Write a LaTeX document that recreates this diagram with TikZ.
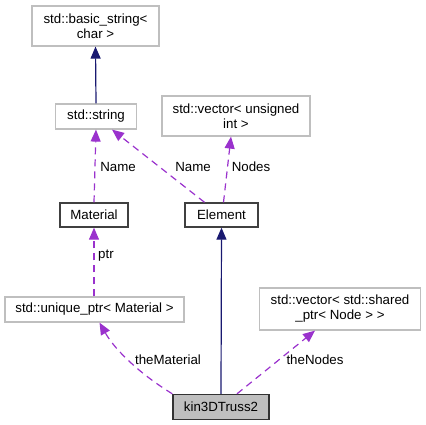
\documentclass[tikz,border=0pt]{standalone}
\usepackage{fontspec}
\setmainfont{Liberation Sans}
\usetikzlibrary{arrows.meta,positioning}
\definecolor{edgenavy}{HTML}{191970}
\definecolor{edgepurple}{HTML}{9A32CD}
\definecolor{boxgray}{HTML}{BFBFBF}
\definecolor{boxdark}{HTML}{404040}

\begin{document}
\begin{tikzpicture}[
  x=1pt, y=-1pt,
  every node/.style={font=\fontsize{13.3}{15}\selectfont},
  extcls/.style={draw=boxgray, line width=1.2pt, fill=white, align=center, inner sep=2pt},
  cls/.style={draw=boxdark, line width=1.4pt, fill=white, align=center, inner sep=2pt},
  curcls/.style={draw=black!80, line width=1.4pt, fill=boxgray, align=center, inner sep=2pt},
  inherit/.style={-{Triangle[length=12pt, width=10pt]}, line width=1.2pt, edgenavy},
  usage/.style={-{Triangle[length=12pt, width=10pt]}, line width=1.2pt, edgepurple,
                dash pattern=on 7pt off 5pt},
  lbl/.style={inner sep=0pt}
]
\useasboundingbox (0,0) rectangle (426,425);

%% Classes
\node[extcls, minimum width=127pt, minimum height=40pt] (basicstr) at (95.5,26) {std::basic\_string<\\char >};
\node[extcls, minimum width=81pt, minimum height=25pt] (str) at (96,116.5) {std::string};
\node[extcls, minimum width=148pt, minimum height=40pt] (vecuint) at (236,116) {std::vector< unsigned\\int >};
\node[cls, minimum width=68pt, minimum height=24pt] (material) at (94,215) {Material};
\node[cls, minimum width=73pt, minimum height=24pt] (element) at (221.5,215) {Element};
\node[extcls, minimum width=179pt, minimum height=25pt] (uniqptr) at (94.5,309.5) {std::unique\_ptr< Material >};
\node[extcls, minimum width=161pt, minimum height=42pt] (vecnodes) at (340,309) {std::vector< std::shared\\\_ptr< Node > >};
\node[curcls, minimum width=96pt, minimum height=25pt] (truss) at (221,407) {kin3DTruss2};

%% Inheritance
\draw[inherit] (str.north) -- (basicstr.south);
\draw[inherit] (truss.north) -- (element.south);

%% Usage
\draw[usage] (material.north) -- (str.south);
\draw[usage] ([xshift=-17pt]element.north) -- ([xshift=16pt]str.south);
\draw[usage] ([xshift=2pt]element.north) -- ([xshift=-5pt]vecuint.south);
\draw[usage] (uniqptr.north -| material) -- (material.south);
\draw[usage] (truss.north west) .. controls (140,374) and (115,350) .. ([xshift=5pt]uniqptr.south);
\draw[usage] ([xshift=16pt]truss.north) -- ([xshift=-25pt]vecnodes.south);

%% Labels
\node[lbl] (lname1) at (118,167) {Name};
\node[lbl] (lname2) at (193,167) {Name};
\node[lbl] (lnodes) at (251,167) {Nodes};
\node[lbl] (lptr) at (106,256) {ptr};
\node[lbl] (lmat) at (168,360) {theMaterial};
\node[lbl] (lnds) at (315,360) {theNodes};

\end{tikzpicture}
\end{document}
